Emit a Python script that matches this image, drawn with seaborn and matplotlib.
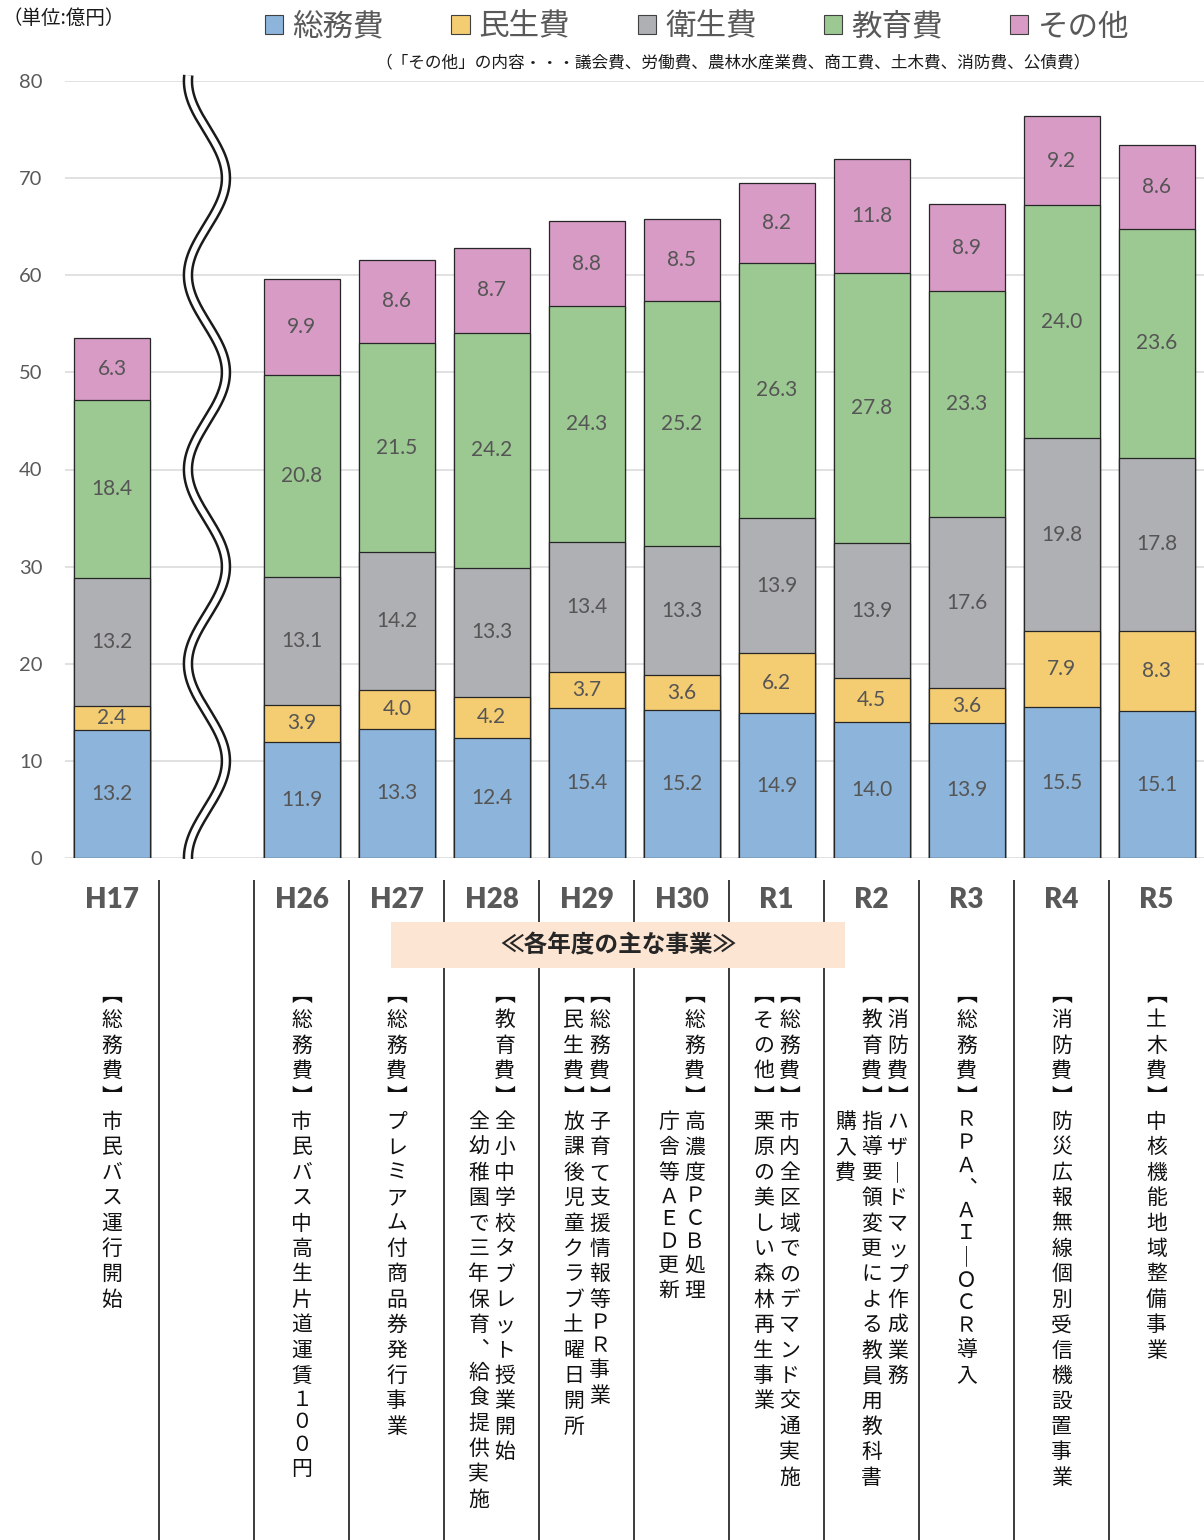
import numpy as np
import pandas as pd
import matplotlib
matplotlib.use("Agg")
import matplotlib.pyplot as plt
from matplotlib.patches import Patch, Rectangle
import seaborn as sns

# ---- data (億円) ----
years = ["H17", "H26", "H27", "H28", "H29", "H30", "R1", "R2", "R3", "R4", "R5"]
categories = ["総務費", "民生費", "衛生費", "教育費", "その他"]
soumu = [13.2, 11.9, 13.3, 12.4, 15.4, 15.2, 14.9, 14.0, 13.9, 15.5, 15.1]
minsei = [2.4, 3.9, 4.0, 4.2, 3.7, 3.6, 6.2, 4.5, 3.6, 7.9, 8.3]
eisei = [13.2, 13.1, 14.2, 13.3, 13.4, 13.3, 13.9, 13.9, 17.6, 19.8, 17.8]
kyouiku = [18.4, 20.8, 21.5, 24.2, 24.3, 25.2, 26.3, 27.8, 23.3, 24.0, 23.6]
sonota = [6.3, 9.9, 8.6, 8.7, 8.8, 8.5, 8.2, 11.8, 8.9, 9.2, 8.6]
colors = ["#8DB4DA", "#F4CC71", "#AFB0B4", "#9CC892", "#D89BC5"]

# main projects of each fiscal year (one list entry per vertical column, with indent in cells)
projects = {
    "H17": [("【総務費】市民バス運行開始", 0)],
    "H26": [("【総務費】市民バス中高生片道運賃１００円", 0)],
    "H27": [("【総務費】プレミアム付商品券発行事業", 0)],
    "H28": [("【教育費】全小中学校タブレット授業開始", 0),
            ("全幼稚園で三年保育、給食提供実施", 5)],
    "H29": [("【総務費】子育て支援情報等ＰＲ事業", 0),
            ("【民生費】放課後児童クラブ土曜日開所", 0)],
    "H30": [("【総務費】高濃度ＰＣＢ処理", 0),
            ("庁舎等ＡＥＤ更新", 5)],
    "R1": [("【総務費】市内全区域でのデマンド交通実施", 0),
           ("【その他】栗原の美しい森林再生事業", 0)],
    "R2": [("【消防費】ハザードマップ作成業務", 0),
           ("【教育費】指導要領変更による教員用教科書", 0),
           ("購入費", 5)],
    "R3": [("【総務費】ＲＰＡ、ＡＩ－ＯＣＲ導入", 0)],
    "R4": [("【消防費】防災広報無線個別受信機設置事業", 0)],
    "R5": [("【土木費】中核機能地域整備事業", 0)],
}

BREAK = "～"  # empty slot where the axis is broken
order = [years[0], BREAK] + years[1:]

series = [soumu, minsei, eisei, kyouiku, sonota]
rows = []
for cat, vals in zip(categories, series):
    for yr, v in zip(years, vals):
        rows.append({"year": yr, "category": cat, "value": v})
df = pd.DataFrame(rows)
df["category"] = pd.Categorical(df["category"], categories, ordered=True)
df = df.sort_values(["year", "category"])
df["top"] = df.groupby("year")["value"].cumsum()
df["bottom"] = df["top"] - df["value"]

sns.set_theme(style="white")
plt.rcParams["font.family"] = ["Noto Sans CJK JP", "DejaVu Sans"]

W, H = 1204, 1540
fig = plt.figure(figsize=(W / 100, H / 100), dpi=100)

ax_left = 64.5 / W
ax = fig.add_axes([ax_left, (H - 858) / H, 1 - ax_left, (858 - 81) / H])

# stacked bars: draw cumulative tops from the uppermost layer down
for cat, col in reversed(list(zip(categories, colors))):
    sns.barplot(data=df[df["category"] == cat], x="year", y="top", order=order,
                color=col, saturation=1, width=0.8, errorbar=None,
                edgecolor="#262626", linewidth=0.9, ax=ax, zorder=2)

pos = {yr: order.index(yr) for yr in years}
for _, r in df.iterrows():
    ax.text(pos[r["year"]], r["bottom"] + r["value"] / 2, f"{r['value']:.1f}",
            ha="center", va="center", fontsize=15, color="#555555",
            family=["Lato", "DejaVu Sans"], zorder=3)

ax.set_xlim(-0.5, len(order) - 0.5)
ax.set_ylim(0, 80)
ax.set_yticks(np.arange(0, 81, 10))
ax.set_xticks([])
ax.set_xlabel("")
ax.set_ylabel("")
ax.grid(axis="y", color="#D9D9D9", linewidth=1.1)
ax.set_axisbelow(True)
for s in ax.spines.values():
    s.set_visible(False)
ax.tick_params(axis="y", length=0, pad=16, labelsize=14.5, labelcolor="#595959")
for lbl in ax.get_yticklabels():
    lbl.set_family(["Lato", "DejaVu Sans"])

# double wavy break line in the empty slot
yw = np.linspace(-0.1, 80.6, 800)
xw = order.index(BREAK) - 0.2 * np.cos(np.pi * yw / 10)
ax.plot(xw, yw, color="#1A1A1A", lw=7.6, solid_capstyle="butt", clip_on=False, zorder=4)
ax.plot(xw, yw, color="white", lw=4.0, solid_capstyle="butt", clip_on=False, zorder=5)

# legend and header notes
handles = [Patch(facecolor=c, edgecolor="#404040", linewidth=0.8) for c in colors]
fig.legend(handles, categories, loc="center", bbox_to_anchor=(697 / W, 1 - 27 / H),
           ncol=5, frameon=False, fontsize=22, labelcolor="#595959",
           handlelength=0.6, handleheight=0.6, handletextpad=0.3, columnspacing=2.2)
fig.text(3 / W, 1 - 18 / H, "（単位:億円）", ha="left", va="center", fontsize=14, color="#1A1A1A")
fig.text(733 / W, 1 - 63 / H,
         "（「その他」の内容・・・議会費、労働費、農林水産業費、商工費、土木費、消防費、公債費）",
         ha="center", va="center", fontsize=12, color="#1A1A1A")

# ---- table of main projects ----
ax_t = fig.add_axes([ax_left, 0, 1 - ax_left, (H - 860) / H])
ax_t.set_xlim(-0.5, len(order) - 0.5)
ax_t.set_ylim(1540, 860)
ax_t.axis("off")

ax_t.vlines(np.arange(len(order) - 1) + 0.5, 880, 1540, color="#1A1A1A", lw=1.2, zorder=1)
for yr in years:
    ax_t.text(pos[yr], 900, yr, ha="center", va="center", fontsize=20,
              weight="heavy", color="#595959", family=["Lato", "DejaVu Sans"])

ax_t.add_patch(Rectangle((2.94, 922), 4.78, 46, facecolor="#FDE5D3", edgecolor="none", zorder=2))
ax_t.text(5.33, 945, "≪各年度の主な事業≫", ha="center", va="center",
          fontsize=17, weight="bold", color="#262626", zorder=3)

vert = {"【": "︻", "】": "︼", "、": "︑", "ー": "｜", "－": "｜"}
narrow = set("ＡＢＣＤＥＩＯＰＲ１０、")
cjk_step, narrow_step = 25.4, 22.5
col_gap = 26 / 95
y_first = 995

for yr in years:
    cols = projects[yr]
    n = len(cols)
    for j, (txt, indent) in enumerate(cols):
        x = pos[yr] + ((n - 1) / 2 - j) * col_gap
        y = y_first + indent * cjk_step
        prev = None
        for ch in txt:
            step = narrow_step if ch in narrow else cjk_step
            if prev is not None:
                y += (prev + step) / 2
            ax_t.text(x, y, vert.get(ch, ch), ha="center", va="center",
                      fontsize=15, color="#111111")
            prev = step

fig.savefig("out.png", dpi=100)
